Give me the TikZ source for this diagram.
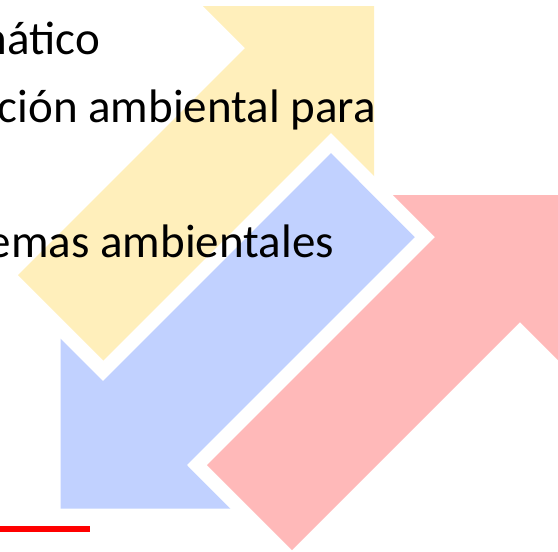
\documentclass[tikz,border=0pt]{standalone}
\usepackage{fontspec}
\setmainfont{Carlito}
\definecolor{arrowyellow}{RGB}{255,239,187}
\definecolor{arrowblue}{RGB}{193,209,255}
\definecolor{arrowred}{RGB}{255,185,185}
\definecolor{rulered}{RGB}{255,0,0}
\tikzset{
  yellowarrow/.style={fill=arrowyellow},
  haloarrow/.style={preaction={draw=white,line width=28pt,line join=miter}},
  bluearrow/.style={haloarrow,fill=arrowblue},
  redarrow/.style={haloarrow,fill=arrowred},
  linetext/.style={anchor=base east,inner sep=0pt,font=\fontsize{47}{56}\selectfont,text=black}
}
\begin{document}
\begin{tikzpicture}[x=1pt,y=-1pt]
\useasboundingbox (0,0) rectangle (558,552);
\clip (0,0) rectangle (558,552);
% yellow arrow (up-right)
\path[yellowarrow] (18,275) -- (245,48) -- (203,6) -- (374,6) -- (374,177) -- (332,135) -- (105,362) -- cycle;
% blue arrow (down-left)
\path[bluearrow] (331,153) -- (103,381) -- (60.5,338.5) -- (60.5,508.5) -- (230.5,508.5) -- (188,466) -- (416,238) -- cycle;
% red arrow (up-right)
\path[redarrow] (207,465) -- (435,237) -- (393,195) -- (562,195) -- (562,364) -- (520,322) -- (292,550) -- cycle;
% texts
\node[linetext] (l1) at (100,54) {nático};
\node[linetext] (l2) at (376,122) {ción ambiental para};
\node[linetext] (l3) at (334,257) {emas ambientales};
% red rule
\coordinate (r0) at (0,529);
\coordinate (r1) at (90,529);
\draw[rulered,line width=6pt] (r0) -- (r1);
\end{tikzpicture}
\end{document}
